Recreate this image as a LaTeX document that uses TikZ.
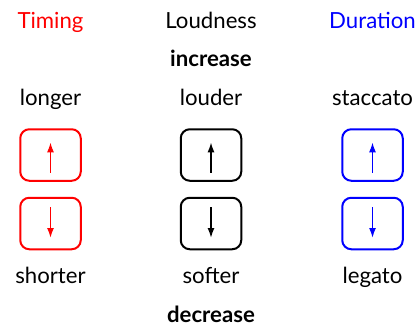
\documentclass[tikz,border=0pt]{standalone}
\usepackage{fontspec}
\setmainfont{Lato}
\usetikzlibrary{arrows.meta}
\usetikzlibrary{positioning}
\tikzset{key/.style = {draw, rounded corners = 9, line width = 2, minimum width = 60.5, minimum height = 51.5, inner sep = 0}}
\tikzset{word/.style = {anchor = base, inner sep = 0, font = \fontsize{22.2}{26}\selectfont}}
\tikzset{tip/.style = {-{Latex[length = 10, width = 7]}, line width = 1.6}}

\begin{document}
\begin{tikzpicture}[x = 1pt, y = -1pt]
      \useasboundingbox (0, 0) rectangle (419, 329);

      \node [word, red] (timing) at (50.5, 28.5) {Timing};
      \node [word] (loud) at (211, 28.5) {Loudness};
      \node [word, blue] (dur) at (372.5, 28.5) {Duration};
      \node [word, font = \fontsize{22.2}{26}\selectfont\bfseries] (inc) at (211, 66.7) {increase};

      \node [word] (longer) at (50.5, 105.7) {longer};
      \node [word] (louder) at (211, 105.7) {louder};
      \node [word] (stacc) at (372.5, 105.7) {staccato};

      \node [key, red] (0) at (50.5, 155) {};
      \node [key] (1) at (211, 155) {};
      \node [key, blue] (2) at (372.5, 155) {};
      \node [key, red] (3) at (50.5, 223.5) {};
      \node [key] (4) at (211, 223.5) {};
      \node [key, blue] (5) at (372.5, 223.5) {};

      \coordinate (0a) at (50.5, 172.7); \coordinate (0b) at (50.5, 142.3);
      \coordinate (1a) at (211, 172.7); \coordinate (1b) at (211, 142.3);
      \coordinate (2a) at (372.5, 172.7); \coordinate (2b) at (372.5, 142.3);
      \coordinate (3a) at (50.5, 207); \coordinate (3b) at (50.5, 238);
      \coordinate (4a) at (211, 207); \coordinate (4b) at (211, 238);
      \coordinate (5a) at (372.5, 207); \coordinate (5b) at (372.5, 238);

      \draw [tip, red] (0a) -- (0b);
      \draw [tip] (1a) -- (1b);
      \draw [tip, blue] (2a) -- (2b);
      \draw [tip, red] (3a) -- (3b);
      \draw [tip] (4a) -- (4b);
      \draw [tip, blue] (5a) -- (5b);

      \node [word] (shorter) at (50.5, 283.3) {shorter};
      \node [word] (softer) at (211, 283.3) {softer};
      \node [word] (legato) at (372.5, 283.3) {legato};
      \node [word, font = \fontsize{22.2}{26}\selectfont\bfseries] (dec) at (211, 322.7) {decrease};
    \end{tikzpicture}
\end{document}
